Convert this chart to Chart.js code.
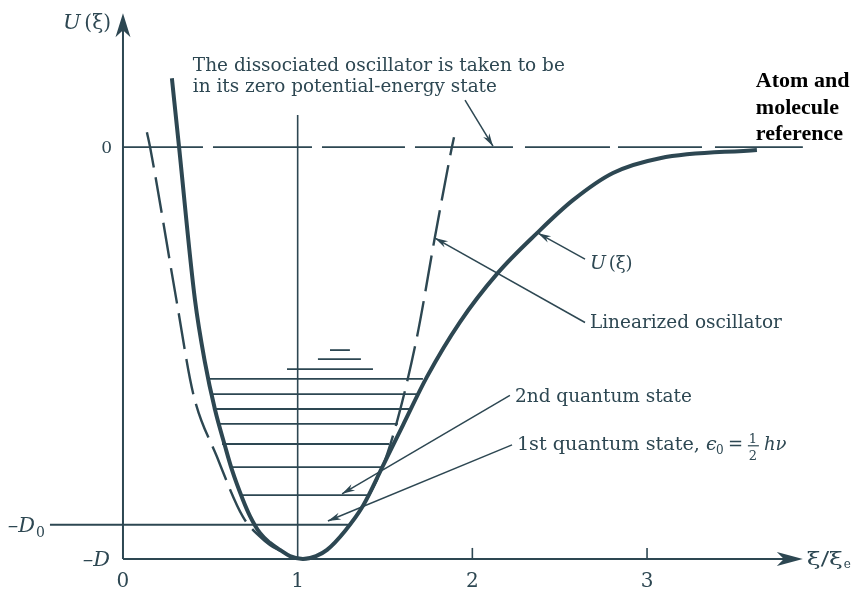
<!DOCTYPE html>
<html>
<head>
<meta charset="utf-8">
<script src="https://cdn.jsdelivr.net/npm/chart.js@4/dist/chart.umd.min.js"></script>
<style>
  html, body { margin: 0; padding: 0; background: #ffffff; }
  #wrap { width: 853px; height: 589px; }
</style>
</head>
<body>
<div id="wrap"><canvas id="c" width="853" height="589"></canvas></div>
<script>
// Potential energy U(ξ)/D of a diatomic molecule against ξ/ξe
const morseXi = [0.280, 0.321, 0.412, 0.469, 0.527, 0.584, 0.624, 0.687, 0.727, 0.784, 0.841, 0.899, 0.956, 1.030,
                 1.105, 1.168, 1.271, 1.374, 1.488, 1.603, 1.740, 1.929, 2.141, 2.370, 2.576, 2.805, 3.074, 3.629];
const morseU  = [0.167, 0.000, -0.371, -0.522, -0.638, -0.726, -0.784, -0.857, -0.896, -0.937, -0.961, -0.978, -0.993, -1.000,
                 -0.993, -0.978, -0.932, -0.871, -0.774, -0.675, -0.558, -0.425, -0.308, -0.209, -0.129, -0.063, -0.027, -0.007];

// Linearized (harmonic) oscillator
const harmXi = [0.137, 0.155, 0.309, 0.401, 0.538, 0.687, 0.784, 0.841, 0.899, 0.956, 1.030, 1.105, 1.168, 1.271,
                1.374, 1.488, 1.574, 1.683, 1.786, 1.883, 1.895];
const harmU  = [0.036, 0.000, -0.379, -0.597, -0.752, -0.898, -0.946, -0.966, -0.980, -0.993, -1.000, -0.993, -0.978, -0.932,
                -0.871, -0.774, -0.658, -0.461, -0.218, 0.000, 0.024];

// Dissociation energy from the ground level, D0/D
const D0 = 0.917;

// Vibrational quantum levels: energy and horizontal extent
const levelU    = [-D0, -0.845, -0.777, -0.721, -0.672, -0.636, -0.600, -0.563, -0.539, -0.515, -0.493];
const levelFrom = [-0.418, 0.681, 0.618, 0.567, 0.544, 0.515, 0.509, 0.481, 0.939, 1.116, 1.185];
const levelTo   = [1.288, 1.397, 1.488, 1.523, 1.574, 1.643, 1.683, 1.717, 1.431, 1.362, 1.299];

// Axis ticks
const xTicks = [0, 1, 2, 3];
const xTickLabels = ['0', '1', '2', '3'];
const yTicks = [0, -D0, -1];
const yTickLabels = ['0', '–D|0', '–D'];

const ink = '#2d4752';
const serif = '"DejaVu Serif", serif';
const serifIt = 'italic 21px "DejaVu Serif", serif';

function pts(xs, ys) { return xs.map((x, i) => ({ x: x, y: ys[i] })); }

const datasets = [
  { label: 'U(ξ)', data: pts(morseXi, morseU), borderColor: ink, borderWidth: 4,
    cubicInterpolationMode: 'monotone', showLine: true, pointRadius: 0, order: 0 },
  { label: 'Linearized oscillator', data: pts(harmXi, harmU), borderColor: ink, borderWidth: 2.4,
    borderDash: [36, 10], cubicInterpolationMode: 'monotone', showLine: true, pointRadius: 0, order: 1 },
  { label: 'zero reference', data: [{ x: 0, y: 0 }, { x: 3.892, y: 0 }], borderColor: ink, borderWidth: 1.8,
    borderDash: [80, 10, 99, 10, 83, 10, 98, 12, 85, 8, 84, 13, 90, 10], showLine: true, pointRadius: 0, order: 2 },
  { label: 'ξ = ξe', data: [{ x: 1, y: 0.078 }, { x: 1, y: -1 }], borderColor: ink, borderWidth: 1.6,
    showLine: true, pointRadius: 0, order: 2 }
];
levelU.forEach((u, i) => {
  datasets.push({ label: 'level ' + i, data: [{ x: levelFrom[i], y: u }, { x: levelTo[i], y: u }],
    borderColor: ink, borderWidth: 1.8, showLine: true, pointRadius: 0, order: 3 });
});

// Callouts: text placed in data units, leader arrows from -> to
const callouts = [
  { lines: ['The dissociated oscillator is taken to be', 'in its zero potential-energy state'],
    x: 0.400, y: [0.185, 0.134], w: [372, 304], from: [1.958, 0.114], to: [2.118, 0.002] },
  { lines: ['Linearized oscillator'], x: 2.673, y: [-0.439], w: [192], from: [2.645, -0.426], to: [1.786, -0.221] },
  { lines: ['2nd quantum state'], x: 2.244, y: [-0.619], w: [177], from: [2.215, -0.603], to: [1.254, -0.842] },
  { lines: ['1st quantum state,'], x: 2.255, y: [-0.735], w: [183], from: [2.227, -0.723], to: [1.173, -0.908] }
];

function fitText(ctx, s, x, y, w) {
  const m = ctx.measureText(s).width;
  ctx.save();
  ctx.translate(x, y);
  if (w) ctx.scale(w / m, 1);
  ctx.fillText(s, 0, 0);
  ctx.restore();
}

function arrowHead(ctx, x0, y0, x1, y1, len, half, notch) {
  const a = Math.atan2(y1 - y0, x1 - x0), c = Math.cos(a), s = Math.sin(a);
  ctx.beginPath();
  ctx.moveTo(x1, y1);
  ctx.lineTo(x1 - len * c + half * s, y1 - len * s - half * c);
  ctx.lineTo(x1 - notch * c, y1 - notch * s);
  ctx.lineTo(x1 - len * c - half * s, y1 - len * s + half * c);
  ctx.closePath();
  ctx.fill();
}

const decor = {
  id: 'decor',
  afterDatasetsDraw(chart) {
    const ctx = chart.ctx;
    const X = v => chart.scales.x.getPixelForValue(v);
    const Y = v => chart.scales.y.getPixelForValue(v);
    ctx.save();
    ctx.strokeStyle = ink; ctx.fillStyle = ink; ctx.lineCap = 'butt';
    ctx.textAlign = 'left'; ctx.textBaseline = 'alphabetic';

    // axes
    const x0 = X(0), yb = Y(-1), yTop = Y(0.325), xEnd = X(3.892);
    ctx.lineWidth = 2;
    ctx.beginPath(); ctx.moveTo(x0, yb); ctx.lineTo(x0, yTop + 8); ctx.stroke();
    ctx.beginPath(); ctx.moveTo(x0, yb); ctx.lineTo(xEnd - 8, yb); ctx.stroke();
    arrowHead(ctx, x0, yb, x0, yTop, 24, 7.5, 17);
    arrowHead(ctx, x0, yb, xEnd, yb, 26, 7, 19);
    ctx.lineWidth = 1.6;
    [2, 3].forEach(v => { ctx.beginPath(); ctx.moveTo(X(v), yb); ctx.lineTo(X(v), yb - 11); ctx.stroke(); });

    // x tick labels
    ctx.font = '20px ' + serif; ctx.textAlign = 'center';
    xTicks.forEach((v, i) => ctx.fillText(xTickLabels[i], X(v), yb + 28));
    ctx.textAlign = 'left';

    // y tick labels
    const yRight = [x0 - 11, x0 - 78, x0 - 13];
    yTicks.forEach((v, i) => {
      const lab = yTickLabels[i];
      const yy = Y(v);
      if (lab === '0') {
        ctx.font = '17px ' + serif; ctx.textAlign = 'right';
        ctx.fillText('0', yRight[i], yy + 6); ctx.textAlign = 'left';
        return;
      }
      const [main, sub] = lab.split('|');
      ctx.font = serifIt;
      const wMain = ctx.measureText(main).width;
      ctx.font = '14px ' + serif;
      const wSub = sub ? ctx.measureText(sub).width + 1 : 0;
      const left = yRight[i] - wMain - wSub;
      ctx.font = serifIt; ctx.fillText(main, left, yy + 7);
      if (sub) { ctx.font = '14px ' + serif; ctx.fillText(sub, left + wMain + 1, yy + 12); }
    });

    // axis titles
    ctx.font = serifIt; ctx.fillText('U', 63, 29);
    ctx.font = '20px ' + serif; ctx.fillText(' (ξ)', 63 + 15, 29);
    ctx.font = '19px ' + serif; fitText(ctx, 'ξ/ξ', xEnd + 4, yb + 6, 36);
    ctx.font = '12px ' + serif; ctx.fillText('e', xEnd + 41, yb + 9);

    // callouts
    ctx.font = '18px ' + serif;
    callouts.forEach(c => {
      c.lines.forEach((t, k) => fitText(ctx, t, X(c.x), Y(c.y[k]), c.w[k]));
      const fx = X(c.from[0]), fy = Y(c.from[1]), tx = X(c.to[0]), ty = Y(c.to[1]);
      ctx.lineWidth = 1.5;
      ctx.beginPath(); ctx.moveTo(fx, fy); ctx.lineTo(tx, ty); ctx.stroke();
      arrowHead(ctx, fx, fy, tx, ty, 13, 3.6, 9);
    });

    // ground-state energy expression
    const bx = X(2.255) + 189, by = Y(-0.735);
    ctx.font = 'italic 19px ' + serif; ctx.fillText('ϵ', bx, by);
    ctx.font = '12px ' + serif; ctx.fillText('0', bx + 10, by + 4);
    ctx.font = '18px ' + serif; ctx.fillText('=', bx + 22, by);
    ctx.font = '13px ' + serif; ctx.textAlign = 'center';
    ctx.fillText('1', bx + 47, by - 7);
    ctx.fillText('2', bx + 47, by + 10);
    ctx.lineWidth = 1.2;
    ctx.beginPath(); ctx.moveTo(bx + 42, by - 4); ctx.lineTo(bx + 53, by - 4); ctx.stroke();
    ctx.textAlign = 'left';
    ctx.font = 'italic 18px ' + serif; ctx.fillText('hν', bx + 58, by);

    // U(ξ) label on the curve
    const ux = X(2.673), uy = Y(-0.295);
    ctx.font = 'italic 19px ' + serif; ctx.fillText('U', ux, uy);
    ctx.font = '18px ' + serif; ctx.fillText(' (ξ)', ux + 13, uy);
    ctx.lineWidth = 1.5;
    const ufx = X(2.645), ufy = Y(-0.272), utx = X(2.376), uty = Y(-0.209);
    ctx.beginPath(); ctx.moveTo(ufx, ufy); ctx.lineTo(utx, uty); ctx.stroke();
    arrowHead(ctx, ufx, ufy, utx, uty, 13, 3.6, 9);

    // reference label
    ctx.fillStyle = '#000000';
    ctx.font = 'bold 22px "Liberation Serif", "Times New Roman", serif';
    const rx = X(3.623);
    ['Atom and', 'molecule', 'reference'].forEach((t, k) => ctx.fillText(t, rx, [87, 114, 140][k]));
    ctx.restore();
  }
};

new Chart(document.getElementById('c'), {
  type: 'scatter',
  data: { datasets: datasets },
  options: {
    responsive: false,
    devicePixelRatio: 1,
    animation: false,
    layout: { padding: 0 },
    plugins: { legend: { display: false }, tooltip: { enabled: false } },
    scales: {
      x: { type: 'linear', min: -0.704, max: 4.179, display: false },
      y: { type: 'linear', min: -1.073, max: 0.357, display: false }
    }
  },
  plugins: [decor]
});
</script>
</body>
</html>
